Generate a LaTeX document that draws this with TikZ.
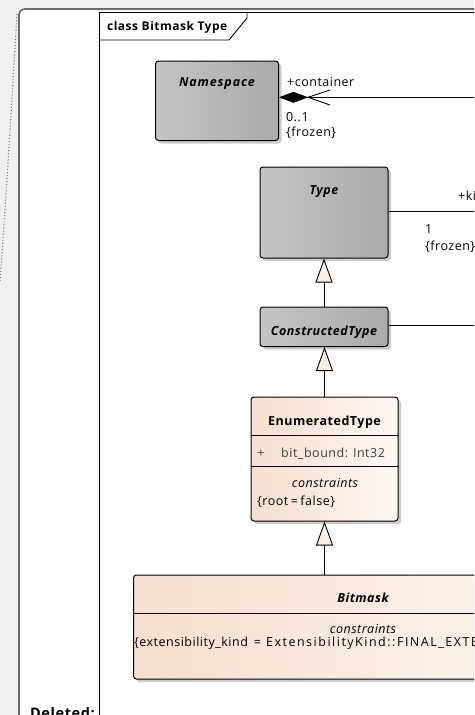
\documentclass[tikz,border=0pt]{standalone}
\usepackage{fontspec}
\setmainfont{Open Sans}[LetterSpace=4]
\usetikzlibrary{arrows.meta,shadows,calc}
\definecolor{bg}{HTML}{F0F0F0}
\definecolor{pageedge}{HTML}{6A6A6A}
\definecolor{gl}{HTML}{C4C4C4}
\definecolor{gr}{HTML}{ABABAB}
\definecolor{pl}{HTML}{F6DFCE}
\definecolor{pr}{HTML}{FDF7F2}
\definecolor{trifill}{HTML}{FBEFE3}
\definecolor{attr}{HTML}{404040}
\begin{document}
\begin{tikzpicture}[x=1pt,y=-1pt,
  txt/.style={font=\fontsize{12.5}{14}\selectfont, inner sep=0pt, anchor=base west},
  ctxt/.style={font=\fontsize{12.5}{14}\selectfont, inner sep=0pt, anchor=base},
  cname/.style={font=\fontsize{12.5}{14}\selectfont\bfseries\itshape, inner sep=0pt, anchor=base},
  cnameup/.style={font=\fontsize{12.5}{14}\selectfont\bfseries, inner sep=0pt, anchor=base},
  boxshadow/.style={drop shadow={shadow xshift=3pt, shadow yshift=-3pt, fill=black!20, opacity=1}},
  graybox/.style={draw=black, line width=1pt, rounded corners=3pt, left color=gl, right color=gr, boxshadow, inner sep=0pt},
  peachbox/.style={draw=black, line width=1pt, rounded corners=3pt, left color=pl, right color=pr, boxshadow, inner sep=0pt},
  conn/.style={draw=black, line width=0.9pt},
  gen/.style={conn, -{Triangle[length=24pt,width=17pt,fill=trifill]}},
]
\useasboundingbox (0,0) rectangle (474,715);
\clip (0,0) rectangle (474,715);
% background and page
\fill[bg] (0,0) rectangle (474,715);
\fill[white, rounded corners=6pt] (19,9) rectangle (490,730);
\draw[pageedge, line width=1.6pt, rounded corners=6pt] (19,730) -- (19,9) -- (490,9);
\draw[gray, line width=1.1pt, dotted] (17,14) .. controls (13,80) and (8,170) .. (0,282);
% frame
\draw[black, line width=0.9pt] (99.5,730) -- (99.5,12) -- (480,12);
\draw[black, line width=0.9pt] (99.5,40) -- (229,40) -- (247,18) -- (247,12);
\node[anchor=base west, inner sep=0pt, font=\fontsize{12}{14}\selectfont\bfseries] (title) at (107,30) {class Bitmask Type};
% classes
\node[graybox, minimum width=123pt, minimum height=79.5pt] (ns) at (217,100.75) {};
\node[cname] (nst) at (217,86.5) {\addfontfeatures{LetterSpace=7}Namespace};
\node[graybox, minimum width=128pt, minimum height=91pt] (type) at (324,212.5) {};
\node[cname] (typet) at (324,194.5) {Type};
\node[graybox, minimum width=128pt, minimum height=39.5pt] (ct) at (324,326.75) {};
\node[cname] (ctt) at (324,335.5) {ConstructedType};
\node[peachbox, minimum width=147pt, minimum height=124pt] (en) at (324.5,459) {};
\draw[line width=0.9pt] (en.west |- 0,435) -- (en.east |- 0,435);
\draw[line width=0.9pt] (en.west |- 0,466) -- (en.east |- 0,466);
\node[cnameup] (ent) at (324.5,425) {EnumeratedType};
\node[ctxt, text=attr] (enplus) at (261,457) {+};
\node[txt, text=attr] (enattr) at (281,457) {bit\_bound: Int32};
\node[ctxt, font=\fontsize{12.5}{14}\selectfont\itshape] (encons) at (325,487) {constraints};
\node[txt] (enroot) at (257,505) {\{root\hspace{2.5pt}=\hspace{2.5pt}false\}};
\node[peachbox, minimum width=459pt, minimum height=104pt] (bm) at (363,627) {};
\draw[line width=0.9pt] (bm.west |- 0,613) -- (bm.east |- 0,613);
\node[cname] (bmt) at (363,602.5) {Bitmask};
\node[ctxt, font=\fontsize{12.5}{14}\selectfont\itshape] (bmcons) at (363,633.5) {constraints};
\node[txt] (bmext) at (134,646.5) {\{extensibility\_kind\hspace{6pt}=\hspace{5pt}{\addfontfeatures{LetterSpace=12}ExtensibilityKind::FINAL\_EXTENSIBILITY\}}};
% right-edge coordinates
\coordinate (e1) at (480,97.3);
\coordinate (e2) at (480,211.7);
\coordinate (e3) at (480,325);
% composition Namespace
\coordinate (nsR) at (ns.east |- e1);
\draw[conn, -{Diamond[length=29pt,width=11pt,fill=black]}] (e1) -- (nsR);
\draw[conn] ($(nsR)+(51,-7.3)$) -- ($(nsR)+(29,0)$) -- ($(nsR)+(51,7.7)$);
\node[txt] (l1) at (287,86) {+container};
\node[txt] (l2) at (286,121) {0..1};
\node[txt] (l3) at (286,136.5) {\{frozen\}};
% association Type
\draw[conn] (e2) -- (type.east |- e2);
\node[txt] (l4) at (458,200) {+kind};
\node[txt] (l5) at (425,233.5) {1};
\node[txt] (l6) at (425,250.5) {\{frozen\}};
% association ConstructedType
\draw[conn] (e3) -- (ct.east |- e3);
% generalizations
\draw[gen] (ct.north) -- (type.south);
\draw[gen] (en.north) -- (en.north |- ct.south);
\draw[gen] (bm.north -| en.south) -- (en.south);
% bottom text
\node[anchor=base west, inner sep=0pt, font=\fontsize{14.5}{16}\selectfont\bfseries] (del) at (30,718) {Deleted:};
\end{tikzpicture}
\end{document}
